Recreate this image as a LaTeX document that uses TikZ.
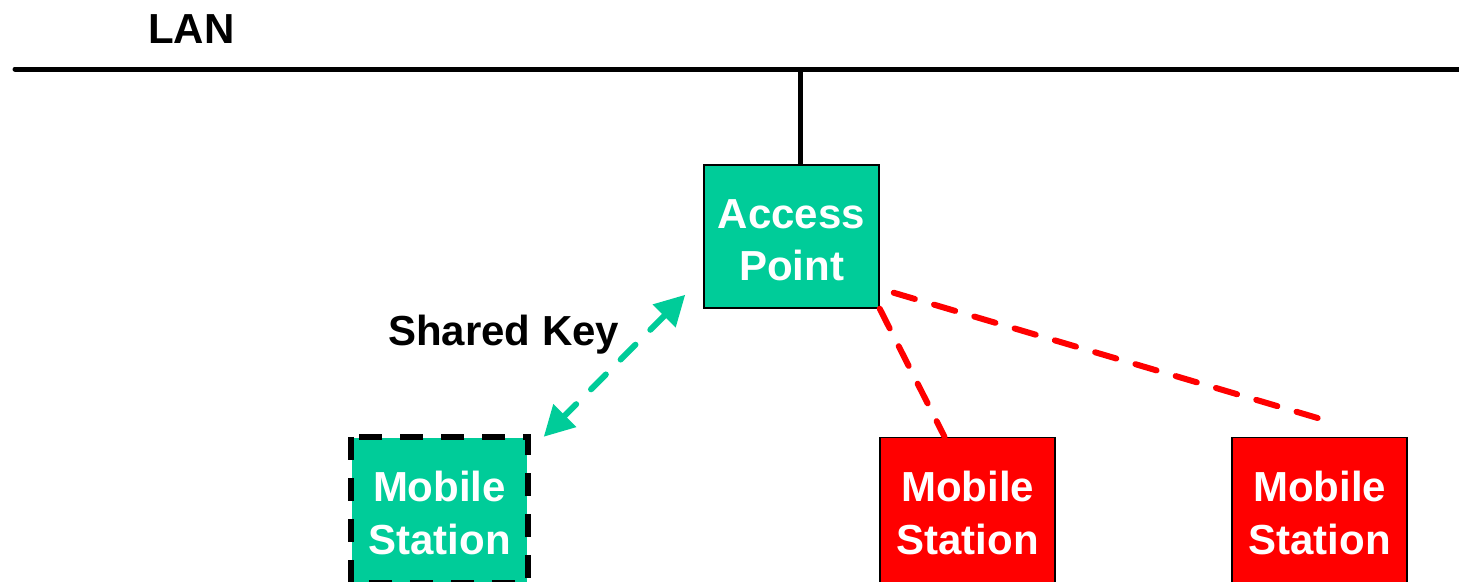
\documentclass[tikz,border=0pt]{standalone}
\usepackage{fontspec}
\setmainfont{Liberation Sans}
\usetikzlibrary{arrows.meta,calc}
\definecolor{apgreen}{RGB}{0,204,153}
\definecolor{msred}{RGB}{255,0,0}
% strut that lowers the two-line labels a little inside their boxes
\newcommand{\boxstrut}{\rule{0pt}{36.6pt}}
\tikzset{
  box/.style={draw=black, line width=1.5pt, minimum width=175pt, minimum height=145pt,
    inner sep=0pt, align=center, text=white,
    font=\fontsize{42}{52.5}\selectfont\bfseries},
  label/.style={inner sep=0pt, font=\fontsize{42}{50}\selectfont\bfseries},
  wire/.style={line width=5pt, black},
  radio/.style={line width=6pt, msred, line cap=round, dash pattern=on 22pt off 20pt},
  keylink/.style={line width=6pt, apgreen, line cap=round, dash pattern=on 21pt off 21pt,
    {Triangle[length=30pt,width=31pt,line cap=butt]}-{Triangle[length=30pt,width=31pt,line cap=butt]}}
}
\begin{document}
\begin{tikzpicture}[x=1pt,y=-1pt]
  \useasboundingbox (0,0) rectangle (1459,581);
  \clip (0,0) rectangle (1459,581);

  % LAN backbone
  \coordinate (lanL) at (15,69);
  \coordinate (lanR) at (1470,69);
  \draw[wire, line cap=round] (lanL) -- (lanR);
  \node[label, anchor=base west] (lan) at (148,43) {LAN};

  % access point and stations
  \node[box, fill=apgreen, minimum height=143pt] (ap) at (791.5,236.5) {\boxstrut Access\\Point};
  \node[box, fill=apgreen, draw=none] (ms1) at (439.5,510) {\boxstrut Mobile\\Station};
  \draw[black, line width=6pt, dash pattern=on 23pt off 18pt]
    (ms1.north west) rectangle (ms1.south east);
  \node[box, fill=msred] (ms2) at (967.5,510) {\boxstrut Mobile\\Station};
  \node[box, fill=msred] (ms3) at (1319.5,510) {\boxstrut Mobile\\Station};

  % AP attached to the LAN
  \coordinate (apTop) at ([xshift=8.5]ap.north);
  \coordinate (tap) at (apTop |- lanL);
  \draw[wire] (tap) -- (apTop);

  % shared-key link
  \draw[keylink] ([shift={(-18,-14)}]ap.south west) -- ([shift={(16,0)}]ms1.north east);
  \node[label, anchor=base west] (key) at (388,345) {Shared Key};

  % unauthenticated radio links
  \draw[radio] (ap.south east) -- ([shift={(-23,0)}]ms2.north);
  \draw[radio] ([shift={(14,-16)}]ap.south east) -- ([shift={(4,-17)}]ms3.north);
\end{tikzpicture}
\end{document}
